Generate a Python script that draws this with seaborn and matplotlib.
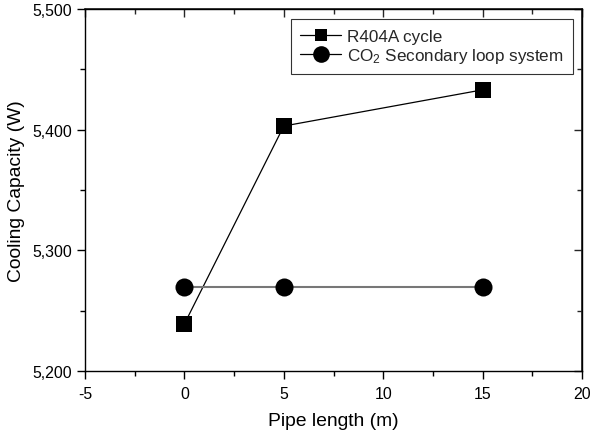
import matplotlib
matplotlib.use("Agg")
import matplotlib.pyplot as plt
import seaborn as sns
import pandas as pd
from matplotlib.ticker import FuncFormatter, MultipleLocator

pipe_length = [0, 5, 15]
r404a = [5239, 5403, 5433]
co2 = [5270, 5270, 5270]
labels = ["R404A cycle", "CO$_2$ Secondary loop system"]

sns.set_theme(style="white")
plt.rcParams['font.family'] = ['Liberation Sans', 'DejaVu Sans']
plt.rcParams['axes.unicode_minus'] = False
plt.rcParams['mathtext.fontset'] = 'custom'
plt.rcParams['mathtext.rm'] = 'Liberation Sans'
plt.rcParams['mathtext.default'] = 'regular'

fig = plt.figure(figsize=(5.92, 4.35), dpi=100)
ax = fig.add_axes([85/592, 1 - 372/435, (582-85)/592, (372-10)/435])

df1 = pd.DataFrame({"x": pipe_length, "y": r404a})
df2 = pd.DataFrame({"x": pipe_length, "y": co2})
sns.lineplot(data=df1, x="x", y="y", ax=ax, color="black", linewidth=0.9,
             marker="s", markersize=11, markeredgewidth=0, label=labels[0])
sns.lineplot(data=df2, x="x", y="y", ax=ax, color="#777777", linewidth=1.5,
             marker="o", markersize=13, markerfacecolor="black",
             markeredgewidth=0, label=labels[1])

ax.set_xlim(-5, 20)
ax.set_ylim(5200, 5500)
ax.xaxis.set_major_locator(MultipleLocator(5))
ax.xaxis.set_minor_locator(MultipleLocator(2.5))
ax.yaxis.set_major_locator(MultipleLocator(100))
ax.yaxis.set_minor_locator(MultipleLocator(50))
ax.yaxis.set_major_formatter(FuncFormatter(lambda v, p: f"{int(v):,}"))

for s in ax.spines.values():
    s.set_color("black")
    s.set_linewidth(1.0)

ax.tick_params(axis="both", which="both", colors="black", labelsize=11.4)
ax.tick_params(which="major", length=6, width=1.0)
ax.tick_params(which="minor", length=3.5, width=1.0)
ax.tick_params(which="both", bottom=True, left=True, direction="out")
ax.tick_params(axis="x", which="major", pad=4.5)

secx = ax.secondary_xaxis("top")
secx.xaxis.set_major_locator(MultipleLocator(5))
secx.xaxis.set_minor_locator(MultipleLocator(2.5))
secx.tick_params(which="both", direction="in", labeltop=False, width=1.0)
secx.tick_params(which="major", length=6)
secx.tick_params(which="minor", length=3.5)
secy = ax.secondary_yaxis("right")
secy.yaxis.set_major_locator(MultipleLocator(100))
secy.yaxis.set_minor_locator(MultipleLocator(50))
secy.tick_params(which="both", direction="in", labelright=False, width=1.0)
secy.tick_params(which="major", length=6)
secy.tick_params(which="minor", length=3.5)
ax.tick_params(which="both", top=False, right=False)

ax.set_xlabel("Pipe length (m)", fontsize=13.9, color="black", labelpad=8)
ax.set_ylabel("Cooling Capacity (W)", fontsize=13.9, color="black", labelpad=5)

leg = ax.legend(loc="upper right", bbox_to_anchor=(0.982, 0.972), fontsize=12.3,
                frameon=True, fancybox=False, edgecolor="black",
                handlelength=2.4, handletextpad=0.35, borderpad=0.55,
                borderaxespad=0, labelspacing=0.15)
leg.get_frame().set_linewidth(0.8)
for h, ms in zip(leg.get_lines(), [9, 12]):
    h.set_color("black")
    h.set_linewidth(0.9)
    h.set_markersize(ms)

fig.savefig("out.png", dpi=100)
